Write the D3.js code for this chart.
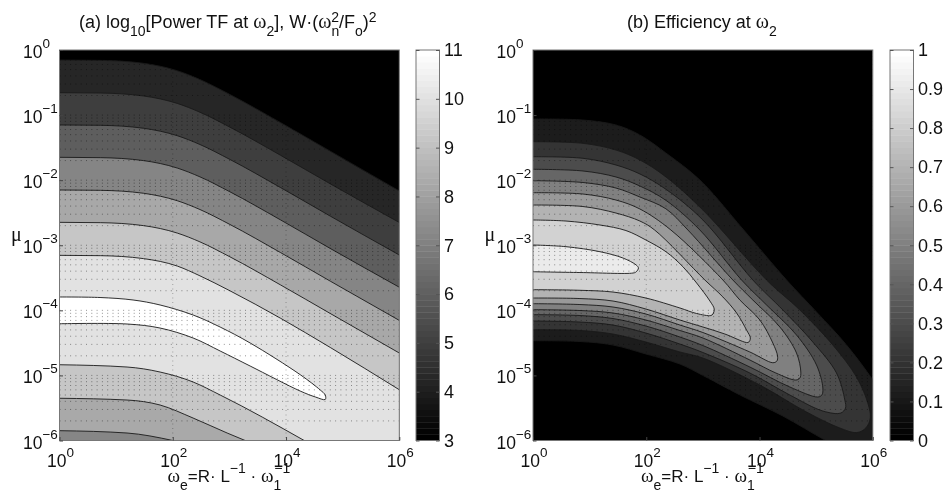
<!DOCTYPE html>
<html><head><meta charset="utf-8">
<script src="https://cdn.jsdelivr.net/npm/d3@7/dist/d3.min.js"></script>
<style>html,body{margin:0;background:#fff;overflow:hidden}svg{display:block;filter:blur(0.5px)}text{font-family:"Liberation Sans",Arial,sans-serif;fill:#111}</style>
</head><body><script>
// All contour points are [log10(omega_e), log10(mu)].
const xTickExponents=[0,2,4,6];
const yTickExponents=[0,-1,-2,-3,-4,-5,-6];
const minorMultipliers=[2,3,4,5,6,7,8,9];
const powerBarTicks=[3,4,5,6,7,8,9,10,11];
const effBarTicks=[0,0.1,0.2,0.3,0.4,0.5,0.6,0.7,0.8,0.9,1];
const knee=[0,0.72,1.48,2.08,2.48,3.01,3.9,4.78,6];
const power4=[-0.154,-0.159,-0.204,-0.319,-0.454,-0.684,-1.114,-1.554,-2.166];
const power5=[-0.656,-0.661,-0.706,-0.821,-0.956,-1.186,-1.616,-2.056,-2.65];
const power6=[-1.152,-1.157,-1.202,-1.317,-1.452,-1.682,-2.112,-2.552,-3.15];
const power7=[-1.649,-1.654,-1.699,-1.814,-1.949,-2.179,-2.609,-3.049,-3.645];
const power8=[-2.151,-2.156,-2.201,-2.316,-2.451,-2.681,-3.111,-3.551,-4.155];
const power9=[-2.648,-2.653,-2.698,-2.813,-2.948,-3.178,-3.608,-4.048,-4.656];
const power10=[-3.155,-3.16,-3.205,-3.32,-3.47,-3.7,-4.12,-4.57,-5.22];
const powerPeak=[[0,-3.795],[0.716,-3.803],[1.299,-3.841],[1.776,-3.918],[2.359,-4.072],[2.837,-4.257],[3.367,-4.502],[4.251,-4.989],[4.604,-5.224],[4.692,-5.301],[4.692,-5.37],[4.52,-5.332],[4.25,-5.24],[3.367,-4.856],[2.837,-4.625],[2.359,-4.425],[1.776,-4.272],[1.193,-4.21],[0,-4.206]];
const power10Low=[[0,-4.836],[1.193,-4.871],[1.776,-4.948],[2.359,-5.101],[2.837,-5.301],[4.321,-6]];
const power9Low=[[0,-5.351],[1.193,-5.378],[1.776,-5.455],[2.359,-5.655],[2.96,-5.885],[3.278,-6]];
const power8Low=[[0,-5.849],[1.193,-5.885],[2,-6]];
const eff01=[[0,-1.06],[0.882,-1.076],[1.465,-1.152],[1.888,-1.306],[2.347,-1.583],[2.947,-1.998],[3.706,-2.751],[4.477,-3.534],[5.006,-4.026],[5.536,-4.533],[6,-5.071],[6.21,-5.378],[6.335,-5.993],[6.035,-6.3],[5.594,-6.193],[5.153,-5.993],[4.412,-5.624],[3.653,-5.3],[3,-5.0],[2.594,-4.825],[1.994,-4.671],[1.412,-4.533],[0.829,-4.479],[0,-4.467]];
const eff02=[[0,-1.409],[0.882,-1.434],[1.465,-1.537],[1.888,-1.69],[2.347,-1.95],[3,-2.459],[4.124,-3.534],[4.712,-3.995],[5.294,-4.533],[5.712,-5.025],[5.912,-5.424],[5.956,-5.655],[5.876,-5.808],[5.718,-5.878],[5.418,-5.808],[4.83,-5.563],[4.006,-5.148],[3,-4.733],[2.594,-4.64],[1.994,-4.487],[1.412,-4.364],[0.829,-4.31],[0,-4.298]];
const eff03=[[0,-1.64],[0.882,-1.664],[1.465,-1.767],[1.888,-1.905],[2.347,-2.14],[3,-2.612],[3.882,-3.534],[4.412,-3.995],[4.941,-4.487],[5.359,-4.963],[5.506,-5.378],[5.518,-5.501],[5.435,-5.578],[5.118,-5.547],[4.535,-5.301],[3.829,-4.963],[3,-4.648],[2.594,-4.518],[1.994,-4.349],[1.412,-4.226],[0.829,-4.18],[0,-4.164]];
const eff04=[[0,-1.833],[0.882,-1.859],[1.465,-1.951],[1.888,-2.09],[2.347,-2.31],[2.947,-2.766],[3.683,-3.534],[4.124,-3.918],[4.653,-4.379],[5.006,-4.84],[5.118,-5.194],[5.1,-5.301],[5.029,-5.332],[4.535,-5.178],[3.829,-4.871],[3,-4.541],[2.594,-4.41],[1.994,-4.241],[1.412,-4.126],[0.829,-4.08],[0,-4.067]];
const eff05=[[0,-2.008],[0.882,-2.036],[1.465,-2.121],[1.888,-2.259],[2.347,-2.44],[2.735,-2.766],[3.529,-3.534],[3.882,-3.842],[4.359,-4.256],[4.653,-4.656],[4.729,-4.948],[4.712,-5.04],[4.641,-5.071],[4.288,-4.963],[3.829,-4.763],[3,-4.425],[2.594,-4.31],[1.994,-4.149],[1.412,-4.041],[0.829,-4.003],[0,-3.99]];
const eff06=[[0,-2.193],[0.882,-2.213],[1.465,-2.305],[1.888,-2.443],[2.435,-2.766],[3.353,-3.534],[3.653,-3.842],[4.006,-4.149],[4.235,-4.502],[4.318,-4.702],[4.306,-4.779],[4.235,-4.805],[3.829,-4.64],[3,-4.341],[2.594,-4.226],[1.994,-4.057],[1.412,-3.949],[0.829,-3.911],[0,-3.898]];
const eff07=[[0,-2.382],[0.882,-2.405],[1.465,-2.505],[1.888,-2.628],[2.148,-2.766],[3.035,-3.534],[3.353,-3.795],[3.595,-4.041],[3.771,-4.303],[3.838,-4.425],[3.812,-4.487],[3.771,-4.495],[3.388,-4.364],[3,-4.256],[2.594,-4.149],[1.994,-3.98],[1.412,-3.857],[0.829,-3.819],[0,-3.811]];
const eff08=[[0,-2.612],[0.582,-2.628],[1.182,-2.689],[1.641,-2.774],[1.994,-2.92],[2.347,-3.099],[2.647,-3.33],[2.889,-3.58],[3.124,-3.857],[3.2,-3.98],[3.176,-4.057],[3.141,-4.08],[2.889,-4.049],[2.594,-3.964],[1.994,-3.811],[1.412,-3.719],[0.829,-3.692],[0,-3.683]];
const eff09=[[0,-2.996],[0.582,-3.022],[1.182,-3.099],[1.588,-3.196],[1.823,-3.304],[1.862,-3.35],[1.818,-3.411],[1.765,-3.427],[0.829,-3.419],[0,-3.407]];
const effContours=[eff01,eff02,eff03,eff04,eff05,eff06,eff07,eff08,eff09];
const effLevels=[0.1,0.2,0.3,0.4,0.5,0.6,0.7,0.8,0.9];
const effShades=["#1c1c1c","#343434","#4c4c4c","#666666","#808080","#999999","#b3b3b3","#d2d2d2","#ebebeb"];
const powerShadesUp=["#262626","#3e3e3e","#5e5e5e","#858585","#a8a8a8","#c6c6c6","#e2e2e2"];
const powerLowShades=["#c6c6c6","#a9a9a9","#868686"];

const svg=d3.select("body").append("svg").attr("width",945).attr("height",493);
const top_=50,bot=440.5,barW=23.5;
const y=d3.scaleLinear().domain([0,-6]).range([top_,bot]);
const line=(xs,c)=>d3.line().x(d=>xs(d[0])).y(d=>y(d[1])).curve(c);
const SER='"Liberation Serif",serif';

function rich(t,segs,size,subSize,subDy,supDy){
  let cur=0;
  segs.forEach(s=>{
    const lvl=s.sub?subDy:s.sup?supDy:0;
    const ts=t.append("tspan").text(s.t).attr("dy",lvl-cur).style("font-size",(s.size||((s.sub||s.sup)?subSize:size))+"px");
    if(s.serif)ts.style("font-family",SER);
    if(s.dx)ts.attr("dx",s.dx);
    cur=lvl;
  });
}
function sciTick(sel,expo){
  sel.text(null);
  sel.attr("text-anchor","start").attr("dy",null);
  const lab=expo>=0?String(expo):"\u2212"+Math.abs(expo);
  sel.append("tspan").text("10").style("font-size","17.5px");
  sel.append("tspan").text(lab).attr("dy",-10).style("font-size","13.5px");
}
function frame(left){
  const g=svg.append("g");
  const x=d3.scaleLinear().domain([0,6]).range([left,left+339.8]);
  const cid="clip"+Math.round(left);
  g.append("clipPath").attr("id",cid).append("rect").attr("x",left).attr("y",top_).attr("width",339.8).attr("height",bot-top_);
  const plot=g.append("g").attr("clip-path",`url(#${cid})`);
  plot.append("rect").attr("x",left).attr("y",top_).attr("width",339.8).attr("height",bot-top_).attr("fill","#000");
  return {g,x,plot};
}
function finish(p,left){
  const {g,x,plot}=p;
  const rows=[];
  yTickExponents.forEach(e=>{rows.push(e);if(e>-6)minorMultipliers.forEach(m=>rows.push(e-1+Math.log10(m)));});
  plot.append("g").selectAll("line").data(rows).join("line")
    .attr("x1",x(0)).attr("x2",x(6)).attr("y1",d=>y(d)).attr("y2",d=>y(d))
    .attr("stroke","#000").attr("stroke-opacity",0.42).attr("stroke-dasharray","1 4.3");
  plot.append("g").selectAll("line").data([2,4]).join("line")
    .attr("x1",d=>x(d)).attr("x2",d=>x(d)).attr("y1",top_).attr("y2",bot)
    .attr("stroke","#000").attr("stroke-opacity",0.3).attr("stroke-dasharray","1 3.5");
  g.append("rect").attr("x",left).attr("y",top_).attr("width",339.8).attr("height",bot-top_).attr("fill","none").attr("stroke","#777");
  const ax=g.append("g").attr("transform",`translate(0,${bot})`).call(d3.axisBottom(x).tickValues(xTickExponents).tickSize(-3.5));
  const ay=g.append("g").attr("transform",`translate(${left},0)`).call(d3.axisLeft(y).tickValues(yTickExponents).tickSize(-3.5));
  [ax,ay].forEach(a=>{a.select(".domain").remove();a.selectAll(".tick line").attr("stroke","#444");});
  ax.selectAll(".tick text").each(function(d){sciTick(d3.select(this),d);}).attr("x",-13).attr("y",26.5);
  ay.selectAll(".tick text").each(function(d){sciTick(d3.select(this),d);}).attr("x",-36.5).attr("y",7.5);
  const xl=g.append("text").attr("x",left+108).attr("y",481.5).style("font-size","17px");
  rich(xl,[{t:"\u03c9",serif:1,size:19},{t:"e",sub:1},{t:"=R\u00b7 L"},{t:"\u22121",sup:1},{t:"  \u00b7 "},{t:"\u03c9",serif:1,size:19},{t:"1",sub:1},{t:"\u22121",sup:1,dx:-7}],17,14,8,-8.5);
  g.append("text").attr("x",left-48.5).attr("y",241).text("\u03bc").style("font-family",SER).style("font-size","20px");
}
function colorbar(left,domain,ticks){
  const g=svg.append("g");
  const s=d3.scaleLinear().domain(domain).range([bot,top_]);
  const n=64,h=(bot-top_)/n;
  g.selectAll("rect.c").data(d3.range(n)).join("rect").attr("class","c")
    .attr("x",left).attr("width",barW).attr("y",d=>bot-(d+1)*h).attr("height",h+0.4)
    .attr("fill",d=>d3.interpolateRgb("#000","#fff")(d/(n-1)));
  g.append("rect").attr("x",left).attr("y",top_).attr("width",barW).attr("height",bot-top_).attr("fill","none").attr("stroke","#777");
  const r=g.append("g").attr("transform",`translate(${left+barW},0)`).call(d3.axisRight(s).tickValues(ticks).tickFormat(d3.format("~g")).tickSize(-3.5).tickPadding(4.5));
  const l=g.append("g").attr("transform",`translate(${left},0)`).call(d3.axisLeft(s).tickValues(ticks).tickFormat("").tickSize(-3.5));
  [r,l].forEach(a=>{a.select(".domain").remove();a.selectAll(".tick line").attr("stroke","#555");});
  r.selectAll(".tick text").attr("x",4.5).style("font-size","18px").style("font-family",'"Liberation Sans"');
}

// Panel (a)
const A=frame(59.5);
const aLine=line(A.x,d3.curveMonotoneX);
const aPeak=line(A.x,d3.curveCatmullRom.alpha(0.5));
const below=(L,x,pts)=>L(pts)+`L${x(6)},${y(-6)}L${x(0)},${y(-6)}Z`;
const zipKnee=v=>knee.map((k,i)=>[k,v[i]]);
[power4,power5,power6,power7,power8,power9,power10].forEach((v,i)=>{
  const pts=zipKnee(v);
  A.plot.append("path").attr("d",below(aLine,A.x,pts)).attr("fill",powerShadesUp[i]);
  A.plot.append("path").attr("d",aLine(pts)).attr("fill","none").attr("stroke","#1a1a1a").attr("stroke-width",0.9);
});
A.plot.append("path").attr("d",aPeak(powerPeak)+"Z").attr("fill","#fff");
A.plot.append("path").attr("d",aPeak(powerPeak)).attr("fill","none").attr("stroke","#1a1a1a").attr("stroke-width",0.9);
[power10Low,power9Low,power8Low].forEach((pts,i)=>{
  A.plot.append("path").attr("d",below(aLine,A.x,pts)).attr("fill",powerLowShades[i]);
  A.plot.append("path").attr("d",aLine(pts)).attr("fill","none").attr("stroke","#1a1a1a").attr("stroke-width",0.9);
});
finish(A,59.5);
colorbar(416,[3,11],powerBarTicks);
const ta=svg.append("text").attr("x",79).attr("y",28).style("font-size","18px");
rich(ta,[{t:"(a) log"},{t:"10",sub:1},{t:"[Power TF at "},{t:"\u03c9",serif:1,size:20},{t:"2",sub:1},{t:"], W\u00b7("},{t:"\u03c9",serif:1,size:20},{t:"n",sub:1},{t:"2",sup:1,dx:-8},{t:"/F"},{t:"o",sub:1},{t:")"},{t:"2",sup:1}],18,14,7.5,-6.5);

// Panel (b)
const B=frame(533);
const bLine=line(B.x,d3.curveCatmullRom.alpha(0.5));
effContours.forEach((pts,i)=>{
  B.plot.append("path").attr("d",bLine(pts)+"Z").attr("fill",effShades[i]).attr("data-level",effLevels[i]);
  B.plot.append("path").attr("d",bLine(pts)).attr("fill","none").attr("stroke","#1a1a1a").attr("stroke-width",0.9);
});
finish(B,533);
colorbar(890,[0,1],effBarTicks);
const tb=svg.append("text").attr("x",627).attr("y",28).style("font-size","18px");
rich(tb,[{t:"(b) Efficiency at "},{t:"\u03c9",serif:1,size:20},{t:"2",sub:1}],18,14,7.5,-6.5);
</script></body></html>
